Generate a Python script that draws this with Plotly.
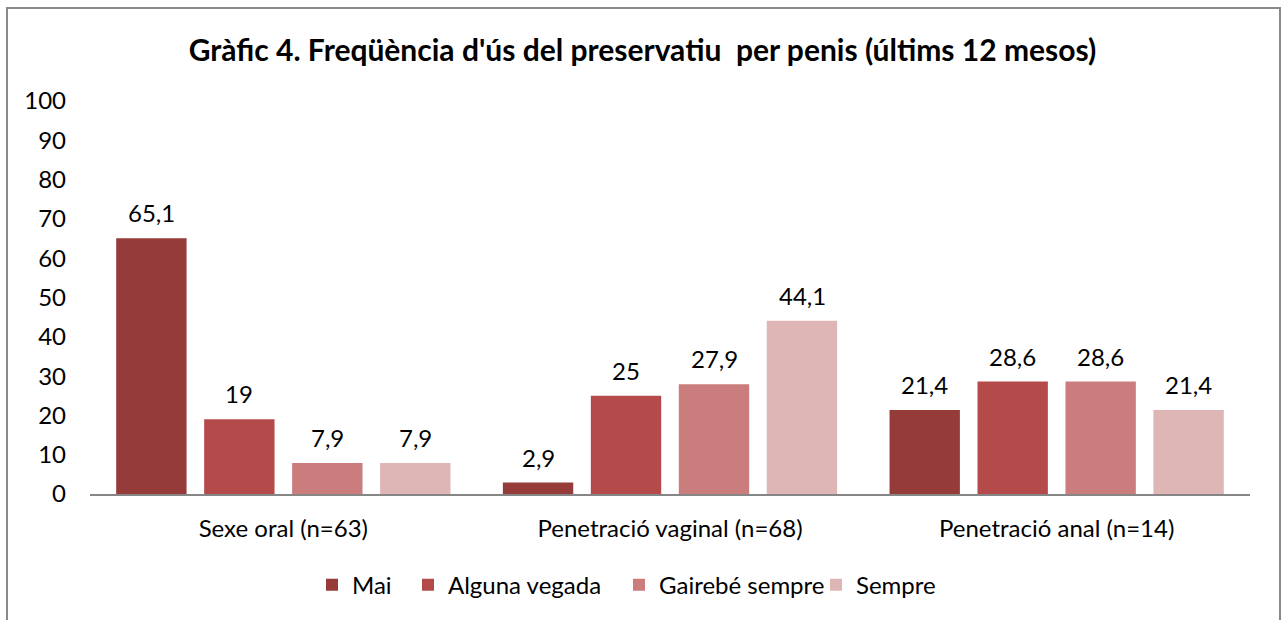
import plotly.graph_objects as go

categories = ["Sexe oral (n=63)", "Penetració vaginal (n=68)", "Penetració anal (n=14)"]
series_names = ["Mai", "Alguna vegada", "Gairebé sempre", "Sempre"]
mai = [65.1, 2.9, 21.4]
alguna_vegada = [19, 25, 28.6]
gairebe_sempre = [7.9, 27.9, 28.6]
sempre = [7.9, 44.1, 21.4]
y_ticks = [0, 10, 20, 30, 40, 50, 60, 70, 80, 90, 100]

series_values = [mai, alguna_vegada, gairebe_sempre, sempre]
colors = ["#953B3A", "#B44B4A", "#CA7D7C", "#DEB6B6"]

FONT = "Lato, sans-serif"
FS = 24

# legend text start positions (pixels) for each entry
legend_text_px = [352, 448, 659, 856]
legend_names = ["legend", "legend2", "legend3", "legend4"]

fig = go.Figure()
for name, vals, col, lg in zip(series_names, series_values, colors, legend_names):
    fig.add_trace(go.Bar(name=name, x=categories, y=vals, marker_color=col,
                         marker_line_width=0, legend=lg))

# value labels
slot_px = 88
annotations = []
for i, vals in enumerate(series_values):
    for c, v in zip(categories, vals):
        annotations.append(dict(
            x=c, y=v, xref="x", yref="y", text=f"{v:g}".replace(".", ","),
            showarrow=False, yanchor="bottom", xanchor="center",
            xshift=(i - 1.5) * slot_px, yshift=9,
            font=dict(family=FONT, size=FS, color="#000000")))

legend_layout = {}
for lg, tx in zip(legend_names, legend_text_px):
    legend_layout[lg] = dict(
        orientation="h", x=(tx - 40 - 90) / 1160, xanchor="left",
        y=-0.232, yanchor="middle", bgcolor="rgba(0,0,0,0)",
        font=dict(family=FONT, size=FS, color="#000000"), itemwidth=30)

fig.update_layout(
    width=1285, height=620,
    margin=dict(l=90, r=35, t=101, b=126),
    paper_bgcolor="white", plot_bgcolor="white",
    barmode="group", bargap=0.09, bargroupgap=0.2,
    separators=",.",
    font=dict(family=FONT, size=FS, color="#000000"),
    title=dict(text="<b>Gràfic 4. Freqüència d'ús del preservatiu\u00a0 per penis (últims 12 mesos)</b>",
               x=0.5, xanchor="center", y=0.919, yanchor="middle",
               font=dict(family=FONT, size=30, color="#000000")),
    showlegend=True,
    annotations=annotations,
    xaxis=dict(showline=True, linecolor="#868686", linewidth=1.5, showgrid=False,
               ticks="", tickfont=dict(family=FONT, size=FS), ticklabelstandoff=12),
    yaxis=dict(range=[0, 100], tickvals=y_ticks, showgrid=False, zeroline=False,
               showline=False, ticks="", tickfont=dict(family=FONT, size=FS),
               ticklabelstandoff=23),
    shapes=[dict(type="rect", xref="paper", yref="paper",
                 x0=(7 - 90) / 1160, x1=(1280 - 90) / 1160,
                 y0=(494 - 630) / 393, y1=(494 - 8) / 393,
                 line=dict(color="#898989", width=2), fillcolor="rgba(0,0,0,0)",
                 layer="below")],
    **legend_layout,
)

fig.write_html("out.html", config={"displayModeBar": False},
               post_script="document.body.style.margin='0';")
